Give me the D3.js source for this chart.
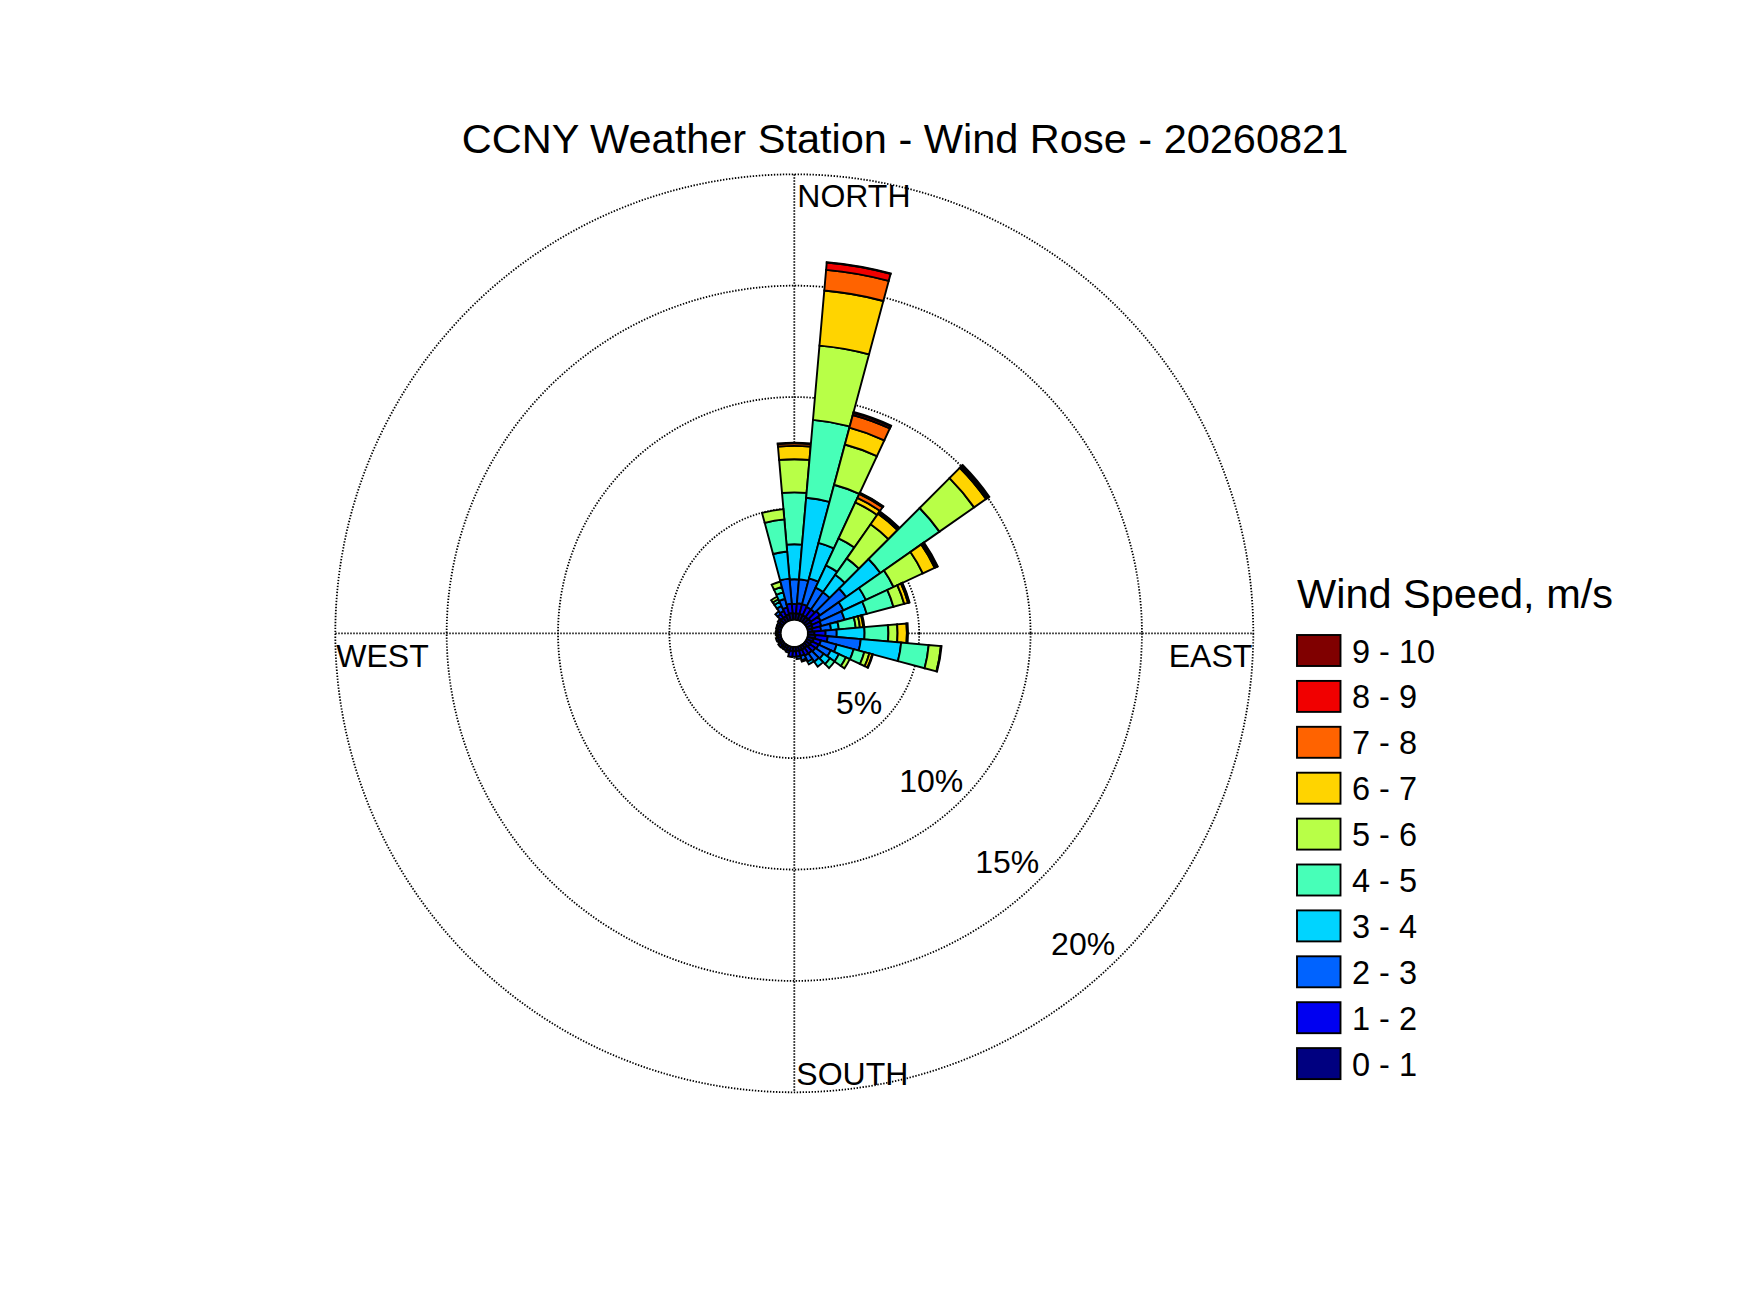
<!DOCTYPE html>
<html>
<head>
<meta charset="utf-8">
<script src="https://cdn.jsdelivr.net/npm/d3@7"></script>
<style>
  body { margin: 0; background: #fff; }
  text { font-family: "Liberation Sans", Arial, Helvetica, sans-serif; fill: #000; }
</style>
</head>
<body>
<div id="chart"></div>
<script>
// wind direction bins (degrees, clockwise from north), 10 deg wide
var directions = [0, 10, 20, 30, 40, 50, 60, 70, 80, 90, 100, 110, 120, 130, 140, 150, 160, 170,
                  180, 190, 200, 210, 220, 230, 240, 250, 260, 270, 280, 290, 300, 310, 320, 330, 340, 350];

var speedLabels = ["0 - 1", "1 - 2", "2 - 3", "3 - 4", "4 - 5", "5 - 6", "6 - 7", "7 - 8", "8 - 9", "9 - 10"];
var speedColors = ["#000080", "#0000f1", "#0063ff", "#00d4ff", "#47ffb8", "#b8ff47", "#ffd400", "#ff6300", "#f10000", "#800000"];

// frequency (%) of each speed class, one value per direction bin
var freq0to1 = [0.29, 0.30, 0.30, 0.28, 0.28, 0.30, 0.28, 0.25, 0.22, 0.30, 0.35, 0.30, 0.25, 0.25, 0.20, 0.20, 0.20, 0.20,
                0.20, 0.20, 0.20, 0.15, 0.15, 0.15, 0.15, 0.15, 0.15, 0.15, 0.15, 0.15, 0.15, 0.20, 0.25, 0.25, 0.28, 0.31];
var freq1to2 = [0.42, 0.45, 0.45, 0.42, 0.42, 0.50, 0.42, 0.40, 0.38, 0.50, 0.55, 0.33, 0.35, 0.30, 0.30, 0.30, 0.25, 0.25,
                0.24, 0.26, 0.10, 0.10, 0.10, 0.12, 0.07, 0.10, 0.05, 0.08, 0.07, 0.09, 0.10, 0.10, 0.20, 0.25, 0.32, 0.42];
var freq2to3 = [1.11, 1.08, 1.20, 0.96, 0.94, 1.44, 1.13, 1.08, 0.45, 0.50, 1.49, 0.73, 0.60, 0.45, 0.45, 0.30, 0.20, 0.11,
                0, 0, 0, 0, 0, 0, 0, 0, 0, 0, 0, 0, 0, 0, 0.15, 0.25, 0.40, 1.13];
var freq3to4 = [1.57, 3.67, 1.65, 1.10, 0.96, 1.87, 1.11, 1.03, 0.35, 1.25, 1.82, 0.79, 0.40, 0.35, 0.27, 0.13, 0.06, 0,
                0, 0, 0, 0, 0, 0, 0, 0, 0, 0, 0, 0, 0, 0, 0, 0.20, 0.30, 1.22];
var freq4to5 = [2.33, 3.51, 2.70, 1.34, 0.90, 3.24, 1.37, 1.24, 0.76, 1.07, 1.24, 0.50, 0.35, 0.25, 0, 0, 0, 0,
                0, 0, 0, 0, 0, 0, 0, 0, 0, 0, 0, 0, 0, 0, 0, 0.13, 0.25, 1.45];
var freq5to6 = [1.49, 3.35, 1.87, 1.78, 1.87, 1.90, 1.45, 0.50, 0.19, 0.41, 0.55, 0.23, 0.19, 0, 0, 0, 0, 0,
                0, 0, 0, 0, 0, 0, 0, 0, 0, 0, 0, 0, 0, 0, 0, 0.13, 0.25, 0.46];
var freq6to7 = [0.60, 2.48, 0.78, 0.22, 0.58, 0.65, 0.59, 0.18, 0.15, 0.42, 0.03, 0.14, 0, 0, 0, 0, 0, 0,
                0, 0, 0, 0, 0, 0, 0, 0, 0, 0, 0, 0, 0, 0, 0, 0, 0, 0];
var freq7to8 = [0.11, 0.93, 0.59, 0.20, 0.07, 0.08, 0.07, 0.05, 0.05, 0.05, 0, 0.03, 0, 0, 0, 0, 0, 0,
                0, 0, 0, 0, 0, 0, 0, 0, 0, 0, 0, 0, 0, 0, 0, 0, 0, 0];
var freq8to9 = [0.03, 0.33, 0.10, 0.04, 0.04, 0.05, 0.05, 0.02, 0, 0, 0, 0, 0, 0, 0, 0, 0, 0,
                0, 0, 0, 0, 0, 0, 0, 0, 0, 0, 0, 0, 0, 0, 0, 0, 0, 0];
var freq9to10 = [0, 0.02, 0.04, 0.02, 0.02, 0.05, 0.03, 0, 0, 0, 0, 0, 0, 0, 0, 0, 0, 0,
                 0, 0, 0, 0, 0, 0, 0, 0, 0, 0, 0, 0, 0, 0, 0, 0, 0, 0];

var ringValues = [5, 10, 15, 20];
var ringLabels = ["5%", "10%", "15%", "20%"];

var speedSeries = [freq0to1, freq1to2, freq2to3, freq3to4, freq4to5, freq5to6, freq6to7, freq7to8, freq8to9, freq9to10];

var width = 1750, height = 1313;
var cx = 794.3, cy = 633.3;
var binWidth = 10;

var svg = d3.select("#chart").append("svg")
    .attr("width", width)
    .attr("height", height);

// radial scale: percent -> pixels, small hole in the middle
var r = d3.scaleLinear().domain([0, 20]).range([13.5, 459]);
var rOuter = r(20);

var toRad = function(deg) { return deg * Math.PI / 180; };

// title
svg.append("text")
    .attr("x", 905)
    .attr("y", 153)
    .attr("text-anchor", "middle")
    .style("font-size", "41.5px")
    .text("CCNY Weather Station - Wind Rose - 20260821");

var plot = svg.append("g").attr("transform", "translate(" + cx + "," + cy + ")");

var dotted = function(sel) {
    sel.style("fill", "none")
       .style("stroke", "#000")
       .style("stroke-width", 1.8)
       .style("stroke-dasharray", "1.4,1.6");
};

// dotted grid circles
plot.selectAll("circle.grid")
    .data(ringValues)
    .enter().append("circle")
    .attr("class", "grid")
    .attr("r", function(d) { return r(d); })
    .call(dotted);

// cross hairs
plot.append("line")
    .attr("x1", -rOuter).attr("x2", rOuter).attr("y1", 0).attr("y2", 0)
    .call(dotted);
plot.append("line")
    .attr("x1", 0).attr("x2", 0).attr("y1", -rOuter).attr("y2", rOuter)
    .call(dotted);

// stack the speed classes for each direction
var keys = speedLabels.map(function(d, i) { return "s" + i; });
var rows = directions.map(function(dir, i) {
    var row = { dir: dir };
    speedSeries.forEach(function(s, k) { row["s" + k] = s[i]; });
    return row;
});
var stacked = d3.stack().keys(keys)(rows);

var arc = d3.arc()
    .innerRadius(function(d) { return r(d[0]); })
    .outerRadius(function(d) { return r(d[1]); })
    .startAngle(function(d) { return toRad(d.data.dir - binWidth / 2); })
    .endAngle(function(d) { return toRad(d.data.dir + binWidth / 2); });

var segments = [];
directions.forEach(function(dir, i) {
    stacked.forEach(function(layer, k) {
        var seg = layer[i];
        if (seg[1] - seg[0] > 0) {
            seg.color = speedColors[k];
            segments.push(seg);
        }
    });
});

plot.selectAll("path.bar")
    .data(segments)
    .enter().append("path")
    .attr("class", "bar")
    .attr("d", arc)
    .style("fill", function(d) { return d.color; })
    .style("stroke", "#000")
    .style("stroke-width", 1.9)
    .style("stroke-linejoin", "miter");

// white hole in the middle
plot.append("circle")
    .attr("r", r(0) - 0.9)
    .style("fill", "#fff");

// ring labels along the south-east diagonal
var labelAngle = toRad(137);
var labelRadius = function(d) { return r(d) - (d === 5 ? 30 : 35.5); };
plot.selectAll("text.ring")
    .data(ringValues)
    .enter().append("text")
    .attr("class", "ring")
    .attr("x", function(d) { return labelRadius(d) * Math.sin(labelAngle); })
    .attr("y", function(d) { return -labelRadius(d) * Math.cos(labelAngle); })
    .attr("dy", "0.36em")
    .attr("text-anchor", "middle")
    .style("font-size", "32px")
    .text(function(d, i) { return ringLabels[i]; });

// compass labels
var compass = plot.append("g").style("font-size", "32px");
compass.append("text").attr("x", 3).attr("y", -rOuter + 33).text("NORTH");
compass.append("text").attr("x", 2).attr("y", rOuter - 7).text("SOUTH");
compass.append("text").attr("x", -rOuter + 1).attr("y", 34).text("WEST");
compass.append("text").attr("x", rOuter - 1).attr("y", 34).attr("text-anchor", "end").text("EAST");

// legend
var legend = svg.append("g").attr("transform", "translate(1297,0)");
legend.append("text")
    .attr("x", 0)
    .attr("y", 608)
    .style("font-size", "41.5px")
    .text("Wind Speed, m/s");

var legendOrder = d3.range(speedLabels.length).reverse();
var item = legend.selectAll("g.item")
    .data(legendOrder)
    .enter().append("g")
    .attr("class", "item")
    .attr("transform", function(d, i) { return "translate(0," + (635 + i * 45.9) + ")"; });

item.append("rect")
    .attr("width", 43.5)
    .attr("height", 31)
    .style("fill", function(d) { return speedColors[d]; })
    .style("stroke", "#000")
    .style("stroke-width", 1.9);

item.append("text")
    .attr("x", 55)
    .attr("y", 27.5)
    .style("font-size", "32.5px")
    .text(function(d) { return speedLabels[d]; });
</script>
</body>
</html>
